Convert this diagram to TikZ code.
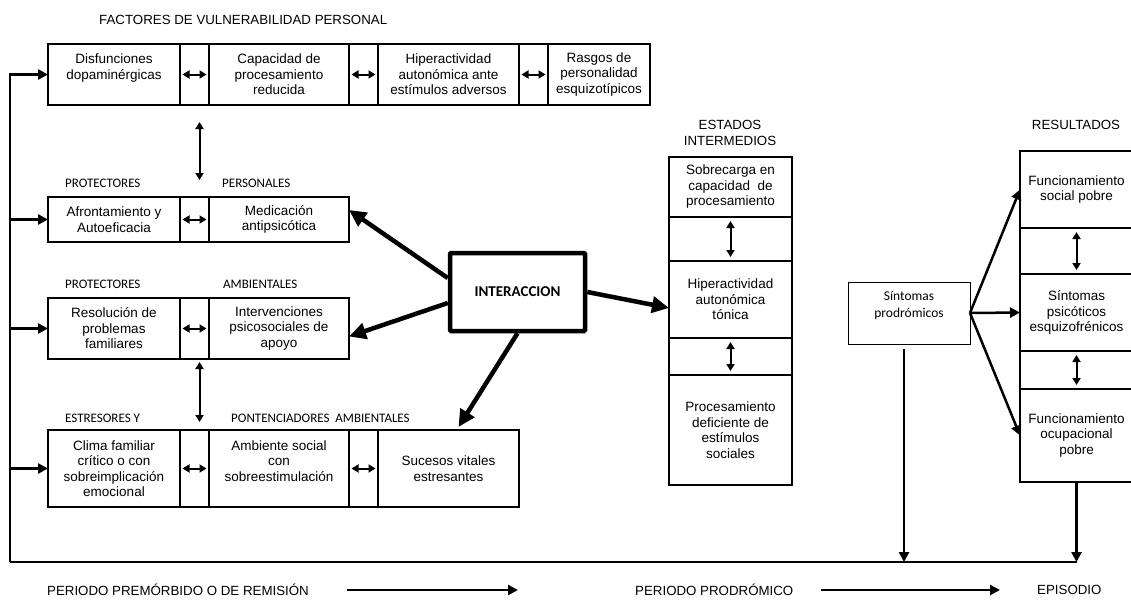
\documentclass[tikz,border=0pt]{standalone}
\usepackage{fontspec}
\setmainfont{Liberation Sans}
\newfontfamily\carlito{Carlito}
\usetikzlibrary{arrows.meta}
\newcommand\boxfont{\fontsize{13.5}{15.5}\selectfont}
\newcommand\headfont{\fontsize{13.3}{15.5}\selectfont}
\newcommand\lblfont{\carlito\fontsize{13}{15}\selectfont}

\begin{document}
\begin{tikzpicture}[x=1pt, y=-1pt,
    cell/.style={draw, line width=2pt, anchor=north west, inner sep=0pt, outer sep=0pt, align=center, font=\boxfont},
    lbl/.style={anchor=west, inner sep=0pt, font=\lblfont},
    head/.style={inner sep=0pt, align=center, font=\headfont},
    link/.style={line width=2.5pt, -{Triangle[length=10pt,width=10pt]}},
    both/.style={line width=2pt, {Triangle[length=7pt,width=8pt]}-{Triangle[length=7pt,width=8pt]}},
    push/.style={line width=4.5pt, -{Triangle[length=17pt,width=16pt]}}]
    \clip (0,0) rectangle (1131,605);
    \node[head, anchor=west] (titulo) at (99,20) {FACTORES DE VULNERABILIDAD PERSONAL};
    \node[cell, minimum width=132pt, minimum height=61pt] (dis) at (48,44) {Disfunciones\\dopaminérgicas\\~};
    \node[cell, minimum width=29pt, minimum height=61pt] (c1) at (dis.north east) {};
    \node[cell, minimum width=140pt, minimum height=61pt] (cap) at (c1.north east) {Capacidad de\\procesamiento\\reducida};
    \node[cell, minimum width=29pt, minimum height=61pt] (c2) at (cap.north east) {};
    \node[cell, minimum width=141pt, minimum height=61pt] (hip) at (c2.north east) {Hiperactividad\\autonómica ante\\estímulos adversos};
    \node[cell, minimum width=29pt, minimum height=61pt] (c3) at (hip.north east) {};
    \node[cell, minimum width=102pt, minimum height=61pt] (ras) at (c3.north east) {Rasgos de\\personalidad\\esquizotípicos};
    \node[lbl] (prot1) at (65,183) {PROTECTORES};
    \node[lbl] (pers) at (222,183) {PERSONALES};
    \node[cell, minimum width=132pt, minimum height=45pt] (afr) at (48,197) {Afrontamiento y\\Autoeficacia};
    \node[cell, minimum width=29pt, minimum height=45pt] (c4) at (afr.north east) {};
    \node[cell, minimum width=140pt, minimum height=45pt] (med) at (c4.north east) {Medicación\\antipsicótica};
    \node[lbl] (prot2) at (65,284) {PROTECTORES};
    \node[lbl] (amb1) at (223,284) {AMBIENTALES};
    \node[cell, minimum width=132pt, minimum height=61pt] (res) at (48,298) {Resolución de\\problemas\\familiares};
    \node[cell, minimum width=29pt, minimum height=61pt] (c5) at (res.north east) {};
    \node[cell, minimum width=140pt, minimum height=61pt] (itv) at (c5.north east) {Intervenciones\\psicosociales de\\apoyo};
    \node[lbl] (estr) at (65,418) {ESTRESORES Y};
    \node[lbl] (pot) at (231,418) {PONTENCIADORES\ \ AMBIENTALES};
    \node[cell, minimum width=132pt, minimum height=77pt] (cli) at (48,430) {Clima familiar\\crítico o con\\sobreimplicación\\emocional};
    \node[cell, minimum width=29pt, minimum height=77pt] (c6) at (cli.north east) {};
    \node[cell, minimum width=140pt, minimum height=77pt] (amb) at (c6.north east) {Ambiente social\\con\\sobreestimulación\\~};
    \node[cell, minimum width=29pt, minimum height=77pt] (c7) at (amb.north east) {};
    \node[cell, minimum width=141pt, minimum height=77pt] (suc) at (c7.north east) {Sucesos vitales\\estresantes};
    \node[draw, line width=4.5pt, rounded corners=1pt, minimum width=135pt, minimum height=78pt, font=\carlito\bfseries\fontsize{15}{17}\selectfont] (inter) at (517.5,292) {INTERACCION};
    \node[head] (estados) at (730,133) {ESTADOS\\INTERMEDIOS};
    \node[cell, minimum width=123pt, minimum height=60pt] (sob) at (669,157) {Sobrecarga en\\capacidad\ \ de\\procesamiento};
    \node[cell, minimum width=123pt, minimum height=44pt] (e1) at (sob.south west) {};
    \node[cell, minimum width=123pt, minimum height=77pt] (hta) at (e1.south west) {Hiperactividad\\autonómica\\tónica};
    \node[cell, minimum width=123pt, minimum height=37pt] (e2) at (hta.south west) {};
    \node[cell, minimum width=123pt, minimum height=110pt] (pro) at (e2.south west) {Procesamiento\\deficiente de\\estímulos\\sociales};
    \node[cell, line width=1pt, minimum width=122pt, minimum height=62pt, font=\carlito\fontsize{13.5}{17}\selectfont] (sint) at (848,282) {Síntomas\\prodrómicos\\~};
    \node[head] (resul) at (1076,125) {RESULTADOS};
    \node[cell, minimum width=113pt, minimum height=77pt] (fso) at (1020,151) {Funcionamiento\\social pobre};
    \node[cell, minimum width=113pt, minimum height=46pt] (r1) at (fso.south west) {};
    \node[cell, minimum width=113pt, minimum height=77pt] (spq) at (r1.south west) {Síntomas\\psicóticos\\esquizofrénicos};
    \node[cell, minimum width=113pt, minimum height=38pt] (r2) at (spq.south west) {};
    \node[cell, minimum width=113pt, minimum height=93pt] (fop) at (r2.south west) {Funcionamiento\\ocupacional\\pobre};
    \coordinate (esq) at (10,562);
    \foreach \c in {c1,c2,c3,c4,c5,c6,c7}
        \draw[both] ([xshift=2.5pt]\c.west) -- ([xshift=-2.5pt]\c.east);
    \foreach \c in {e1,e2,r1,r2}
        \draw[both] ([yshift=-4pt]\c.north) -- ([yshift=4pt]\c.south);
    \draw[both] ([xshift=5pt,yshift=-17pt]c1.south) -- ([xshift=5pt,yshift=17pt]c4.north);
    \draw[both] ([xshift=5pt,yshift=-3pt]c5.south) -- ([xshift=5pt,yshift=8pt]c6.north);
    \foreach \b in {dis,afr,res,cli}
        \draw[link] (esq) |- (\b.west);
    \draw[line width=2.5pt] (esq) -- (fop.south |- esq);
    \draw[push] ([yshift=14pt]inter.west) -- ([yshift=9.5pt]med.east);
    \draw[push] ([yshift=-11pt]inter.west) -- ([yshift=-8pt]itv.east);
    \draw[push] (inter.south) -- ([xshift=10pt,yshift=3pt]suc.north);
    \draw[push] (inter.east) -- ([yshift=-8.5pt]hta.west);
    \foreach \b in {fso,spq,fop}
        \draw[link] (sint.east) -- (\b.west);
    \draw[link] ([xshift=-5pt,yshift=-5pt]sint.south) -- ([xshift=-5pt]sint.south |- esq);
    \draw[link] (fop.south) -- (fop.south |- esq);
    \node[head, anchor=west] (premor) at (47,590) {PERIODO PREMÓRBIDO O DE REMISIÓN};
    \coordinate (p1a) at (347,590);
    \coordinate (p1b) at (518,590);
    \draw[link] (p1a) -- (p1b);
    \node[head, anchor=west] (prodr) at (635,590) {PERIODO PRODRÓMICO};
    \coordinate (p2a) at (821,590);
    \coordinate (p2b) at (1000,590);
    \draw[link] (p2a) -- (p2b);
    \node[head, anchor=west] (epis) at (1037,590) {EPISODIO};
\end{tikzpicture}
\end{document}
